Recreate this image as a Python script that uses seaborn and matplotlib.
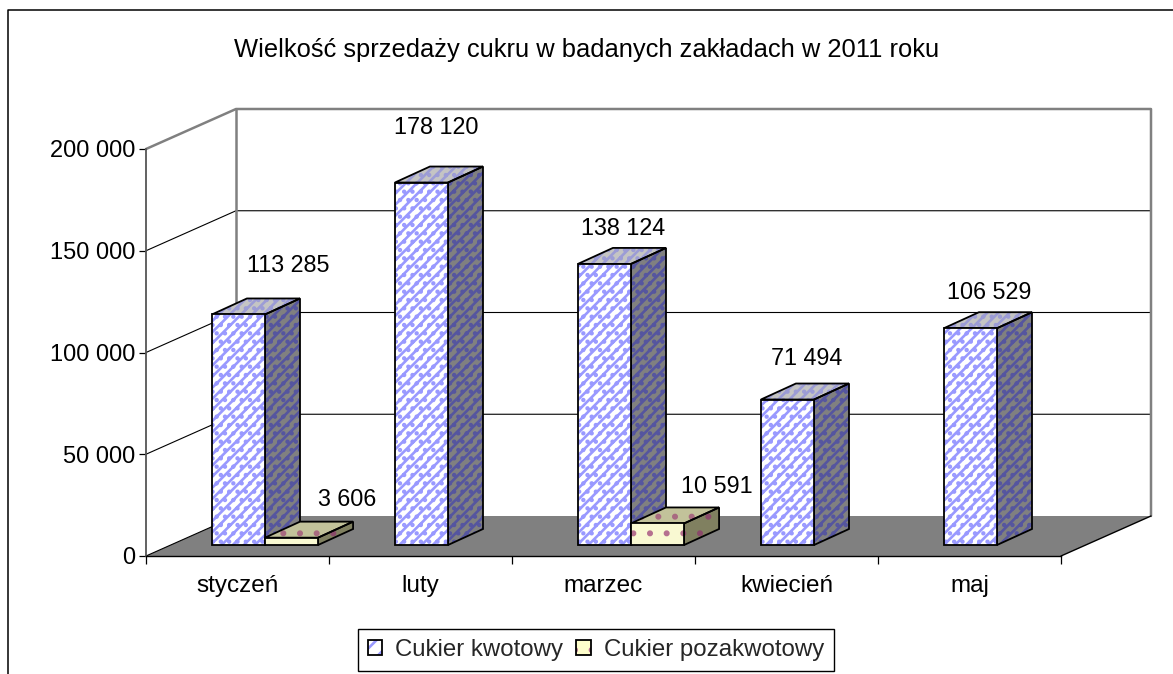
import numpy as np
import pandas as pd
import matplotlib
matplotlib.use("Agg")
import matplotlib.pyplot as plt
import seaborn as sns
from matplotlib.patches import Polygon, Rectangle, Patch
from matplotlib.lines import Line2D
from matplotlib.legend_handler import HandlerTuple

months = ["styczeń", "luty", "marzec", "kwiecień", "maj"]
kwotowy = [113285, 178120, 138124, 71494, 106529]
pozakwotowy = [3606, None, 10591, None, None]
series_names = ["Cukier kwotowy", "Cukier pozakwotowy"]
y_ticks = [0, 50000, 100000, 150000, 200000]
title = "Wielkość sprzedaży cukru w badanych zakładach w 2011 roku"

W, H = 1173, 674
FONT = "Liberation Sans"
sns.set_theme(style="white")
plt.rcParams["font.family"] = [FONT, "DejaVu Sans"]
plt.rcParams["hatch.linewidth"] = 1.9

fig = plt.figure(figsize=(W / 100, H / 100), dpi=100, facecolor="white")
L, R, T, B = 146, 1061, 149, 556
ax = fig.add_axes([L / W, 1 - B / H, (R - L) / W, (B - T) / H])

df = pd.DataFrame({
    "month": months * 2,
    "series": [series_names[0]] * 5 + [series_names[1]] * 5,
    "value": kwotowy + pozakwotowy,
}).dropna()
sns.barplot(data=df, x="month", y="value", hue="series", order=months,
            hue_order=series_names, width=0.58, gap=0, legend=False, ax=ax,
            palette=["#FFFFFF", "#FFFFCC"], errorbar=None)
ax.set_xlim(-0.5, 4.5)
ax.set_ylim(0, 200000)
ax.set_xlabel("")
ax.set_ylabel("")

# pixel -> data conversion
px = 5 / (R - L)
py = 200000 / (B - T)

# plot box: floor, walls, grid
dxw, dyw = 90 * px, 40 * py
x0, x1 = -0.5, 4.5
ax.add_patch(Polygon([(x0, 0), (x0 + dxw, dyw), (x1 + dxw, dyw), (x1, 0)],
                     fc="#808080", ec="none", clip_on=False, zorder=0.5))
for v in y_ticks[1:-1]:
    ax.plot([x0, x0 + dxw, x1 + dxw], [v, v + dyw, v + dyw], color="black",
            lw=0.8, clip_on=False, zorder=0.6)
ax.plot([x0, x0 + dxw, x1 + dxw, x1 + dxw], [200000, 200000 + dyw, 200000 + dyw, dyw],
        color="#808080", lw=1.8, clip_on=False, zorder=0.6)
ax.plot([x0 + dxw, x0 + dxw], [dyw, 200000 + dyw], color="#808080", lw=1.8,
        clip_on=False, zorder=0.6)
ax.plot([x0, x0 + dxw], [0, dyw], color="black", lw=0.8, clip_on=False, zorder=0.6)
ax.plot([x1, x1 + dxw], [0, dyw], color="black", lw=1.0, clip_on=False, zorder=0.6)

# bars: plane shift and depth
sx, sy = 27.5 * px, 11 * py
dx, dy = 35 * px, 16 * py
styles = [
    dict(hatch="///..", hc="#9999FF", side_fc="#808080", side_hc="#55559F",
         top_fc="#C4C4C4", top_hc="#9C9CD6"),
    dict(hatch=".", hc="#B5708F", side_fc="#808060", side_hc="#8A4A6A",
         top_fc="#C2C29A", top_hc="#A86A80"),
]
value_lists = [kwotowy, pozakwotowy]
label_offsets = [
    [(50, 49), (15, 55), (19, 35), (19, 41), (19, 36)],
    [(56, 38), None, (59, 37), None, None],
]
for h, cont in enumerate(ax.containers):
    st = styles[h]
    for p in cont.patches:
        cat = int(round(p.get_x() + p.get_width() / 2))
        xa = p.get_x() + sx
        xb = xa + p.get_width()
        ya = sy
        yb = p.get_height() + sy
        z = 2 + cat * 2 + h * 0.5
        p.set_xy((xa, ya))
        p.set_height(yb - ya)
        p.set_clip_on(False)
        p.set_zorder(z + 0.1)
        p.set_edgecolor(st["hc"])
        p.set_linewidth(0)
        p.set_hatch(st["hatch"])
        side = [(xb, ya), (xb + dx, ya + dy), (xb + dx, yb + dy), (xb, yb)]
        top = [(xa, yb), (xb, yb), (xb + dx, yb + dy), (xa + dx, yb + dy)]
        for pts, fc, hc in ((side, st["side_fc"], st["side_hc"]),
                            (top, st["top_fc"], st["top_hc"])):
            ax.add_patch(Polygon(pts, fc=fc, ec=hc, lw=0, hatch=st["hatch"],
                                 clip_on=False, zorder=z))
            ax.add_patch(Polygon(pts, fill=False, ec="black", lw=1.3,
                                 clip_on=False, zorder=z + 0.05))
        ax.add_patch(Rectangle((xa, ya), xb - xa, yb - ya, fill=False, ec="black",
                               lw=1.3, clip_on=False, zorder=z + 0.2))
        val = value_lists[h][cat]
        ox, oy = label_offsets[h][cat]
        ax.annotate(f"{val:,}".replace(",", " "),
                    xy=((xa + xb) / 2, yb), xycoords="data",
                    xytext=(ox * 0.72, oy * 0.72), textcoords="offset points",
                    ha="center", va="center", fontsize=16.8, color="black",
                    zorder=50, annotation_clip=False)

# axes furniture
for s in ("top", "right"):
    ax.spines[s].set_visible(False)
ax.spines["left"].set_color("#555555")
ax.spines["left"].set_linewidth(1.3)
ax.spines["left"].set_zorder(1)
ax.spines["bottom"].set_color("black")
ax.spines["bottom"].set_linewidth(1.0)
ax.spines["bottom"].set_zorder(1)
ax.patch.set_facecolor("white")

ax.set_yticks(y_ticks, [f"{v:,}".replace(",", " ") for v in y_ticks])
ax.tick_params(axis="y", which="major", left=True, length=5, width=0.9, color="black",
               pad=3, labelsize=17, labelcolor="black")
ax.set_xticks(np.arange(-0.5, 5, 1), [""] * 6)
ax.set_xticks(np.arange(5), months, minor=True)
ax.tick_params(axis="x", which="major", bottom=True, length=6, width=0.9, color="black")
ax.tick_params(axis="x", which="minor", bottom=False, length=0, pad=14, labelsize=17.5,
               labelcolor="black")

# title and outer frame
fig.text(587 / W, 1 - 50 / H, title, ha="center", va="center", fontsize=18.4, color="black")
fig.add_artist(Line2D([8 / W, 8 / W, 1], [0, 1 - 10 / H, 1 - 10 / H], color="black", lw=1.1))

# legend
blue = (Patch(fc="white", ec="#9999FF", lw=0, hatch="//"), Patch(fill=False, ec="black", lw=1.3))
yell = (Patch(fc="#FFFFCC", ec="#B5708F", lw=0, hatch="."), Patch(fill=False, ec="black", lw=1.3))
leg = fig.legend([blue, yell], series_names, handler_map={tuple: HandlerTuple(ndivide=1, pad=0)},
                 loc="center", bbox_to_anchor=(596 / W, 1 - 650 / H), ncol=2,
                 fontsize=17.3, frameon=True, fancybox=False, edgecolor="black",
                 framealpha=1, handlelength=0.6, handleheight=0.6, handletextpad=0.55,
                 columnspacing=0.55, borderpad=0.42, borderaxespad=0)
leg.get_frame().set_linewidth(1.0)

fig.savefig("out.png", dpi=100)
